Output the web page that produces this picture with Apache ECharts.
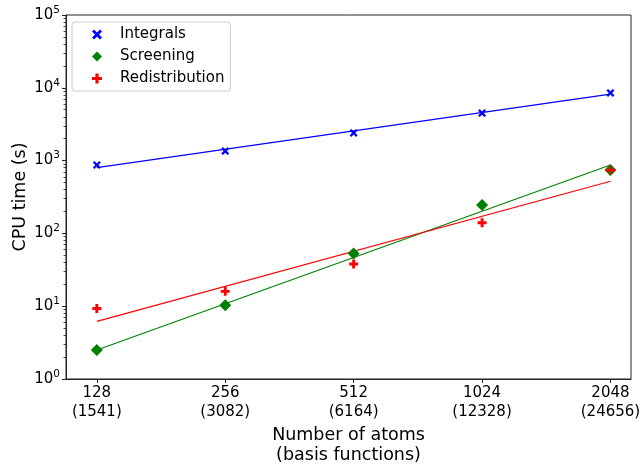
<!DOCTYPE html>
<html>
<head>
    <meta charset="utf-8">
    <title>CPU time</title>
    <script src="https://cdn.jsdelivr.net/npm/echarts@6/dist/echarts.min.js"></script>
    <style>
        html, body { margin: 0; padding: 0; background: #fff; }
        #main { width: 642px; height: 464px; }
    </style>
</head>
<body>
    <div id="main"></div>
    <script>
        // data
        var atoms = ['128', '256', '512', '1024', '2048'];
        var basisFns = ['1541', '3082', '6164', '12328', '24656'];
        var integrals = [870, 1350, 2400, 4500, 8500];
        var screening = [2.5, 10.3, 53, 245, 740];
        var redistribution = [9.3, 16, 38, 140, 740];
        // fitted lines, values at 128 and 2048 atoms
        var integralsFit = [800, 8200];
        var screeningFit = [2.5, 870];
        var redistributionFit = [6.2, 520];

        // minor log ticks (2..9 per decade), as log10 positions
        var minorTicks = [];
        for (var d = 0; d < 5; d++) {
            for (var k = 2; k <= 9; k++) minorTicks.push(d + Math.log10(k));
        }

        function pts(arr) {
            return arr.map(function (v, i) { return [i, v]; });
        }
        function fitPts(arr) {
            return [[0, arr[0]], [atoms.length - 1, arr[1]]];
        }

        var xIdx = atoms.map(function (a, i) { return i; });
        var font = 'DejaVu Sans';
        var xSym = 'path://M2,0 L5,3 L8,0 L10,2 L7,5 L10,8 L8,10 L5,7 L2,10 L0,8 L3,5 L0,2 Z';
        var pSym = 'path://M3.4,0 L6.6,0 L6.6,3.4 L10,3.4 L10,6.6 L6.6,6.6 L6.6,10 L3.4,10 L3.4,6.6 L0,6.6 L0,3.4 L3.4,3.4 Z';

        var myChart = echarts.init(document.getElementById('main'));
        var option = {
            animation: false,
            textStyle: { fontFamily: font, color: '#000' },
            grid: {
                left: 66, top: 15, right: 11, bottom: 85,
                outerBoundsMode: 'none',
                containLabel: false,
                show: true, borderColor: '#222', borderWidth: 1
            },
            legend: {
                data: ['Integrals', 'Screening', 'Redistribution'],
                orient: 'vertical',
                left: 72, top: 22,
                padding: [5, 6, 5, 20],
                itemWidth: 10, itemHeight: 10, itemGap: 7,
                backgroundColor: '#fff',
                borderColor: '#ccc', borderWidth: 1, borderRadius: 3,
                textStyle: { fontSize: 15, fontFamily: font, color: '#000', padding: [0, 0, 0, 13] }
            },
            xAxis: {
                type: 'value',
                min: -0.24, max: 4.16,
                name: 'Number of atoms\n(basis functions)',
                nameLocation: 'middle',
                nameGap: 46,
                nameMoveOverlap: false,
                nameTextStyle: { fontSize: 17.5, lineHeight: 20, fontFamily: font, color: '#000' },
                axisLine: { lineStyle: { color: '#222' } },
                splitLine: { show: false },
                axisTick: { customValues: xIdx, length: 4, lineStyle: { color: '#222' } },
                axisLabel: {
                    customValues: xIdx,
                    fontSize: 15, lineHeight: 19, margin: 5, color: '#000',
                    formatter: function (v) {
                        return atoms[v] + '\n(' + basisFns[v] + ')';
                    }
                }
            },
            yAxis: [{
                type: 'log',
                logBase: 10,
                min: 1, max: 100000,
                name: 'CPU time (s)',
                nameLocation: 'middle',
                nameGap: 37,
                nameMoveOverlap: false,
                nameTextStyle: { fontSize: 17.5, fontFamily: font, color: '#000' },
                axisLine: { show: true, onZero: false, lineStyle: { color: '#222' } },
                splitLine: { show: false },
                axisTick: { show: true, length: 4, lineStyle: { color: '#222' } },
                axisLabel: {
                    margin: 6, color: '#000',
                    formatter: function (v) {
                        var e = Math.round(Math.log10(v));
                        return '{b|10}{s|' + e + '}';
                    },
                    rich: {
                        b: { fontSize: 15, fontFamily: font, color: '#000' },
                        s: { fontSize: 10.5, fontFamily: font, color: '#000', padding: [0, 0, 10, 0] }
                    }
                }
            }, {
                // helper axis that only draws the minor ticks
                type: 'value',
                min: 0, max: 5,
                position: 'left',
                offset: 0,
                axisLine: { show: false, onZero: false },
                splitLine: { show: false },
                axisLabel: { show: false },
                axisTick: { show: true, customValues: minorTicks, length: 2.5, lineStyle: { color: '#222', width: 0.8 } }
            }],
            series: [
                {
                    name: 'Integrals fit', type: 'line', data: fitPts(integralsFit),
                    showSymbol: false, silent: true, z: 1,
                    lineStyle: { color: '#0000ff', width: 1.2 }
                },
                {
                    name: 'Screening fit', type: 'line', data: fitPts(screeningFit),
                    showSymbol: false, silent: true, z: 1,
                    lineStyle: { color: '#008000', width: 1.2 }
                },
                {
                    name: 'Redistribution fit', type: 'line', data: fitPts(redistributionFit),
                    showSymbol: false, silent: true, z: 1,
                    lineStyle: { color: '#ff0000', width: 1.2 }
                },
                {
                    name: 'Integrals', type: 'scatter', data: pts(integrals),
                    symbol: xSym, symbolSize: 8, z: 3,
                    itemStyle: { color: '#0000ff', opacity: 1 }
                },
                {
                    name: 'Screening', type: 'scatter', data: pts(screening),
                    symbol: 'diamond', symbolSize: 12, z: 3,
                    itemStyle: { color: '#008000', opacity: 1 }
                },
                {
                    name: 'Redistribution', type: 'scatter', data: pts(redistribution),
                    symbol: pSym, symbolSize: 9, z: 4,
                    itemStyle: { color: '#ff0000', opacity: 1 }
                }
            ]
        };
        myChart.setOption(option);
    </script>
</body>
</html>
